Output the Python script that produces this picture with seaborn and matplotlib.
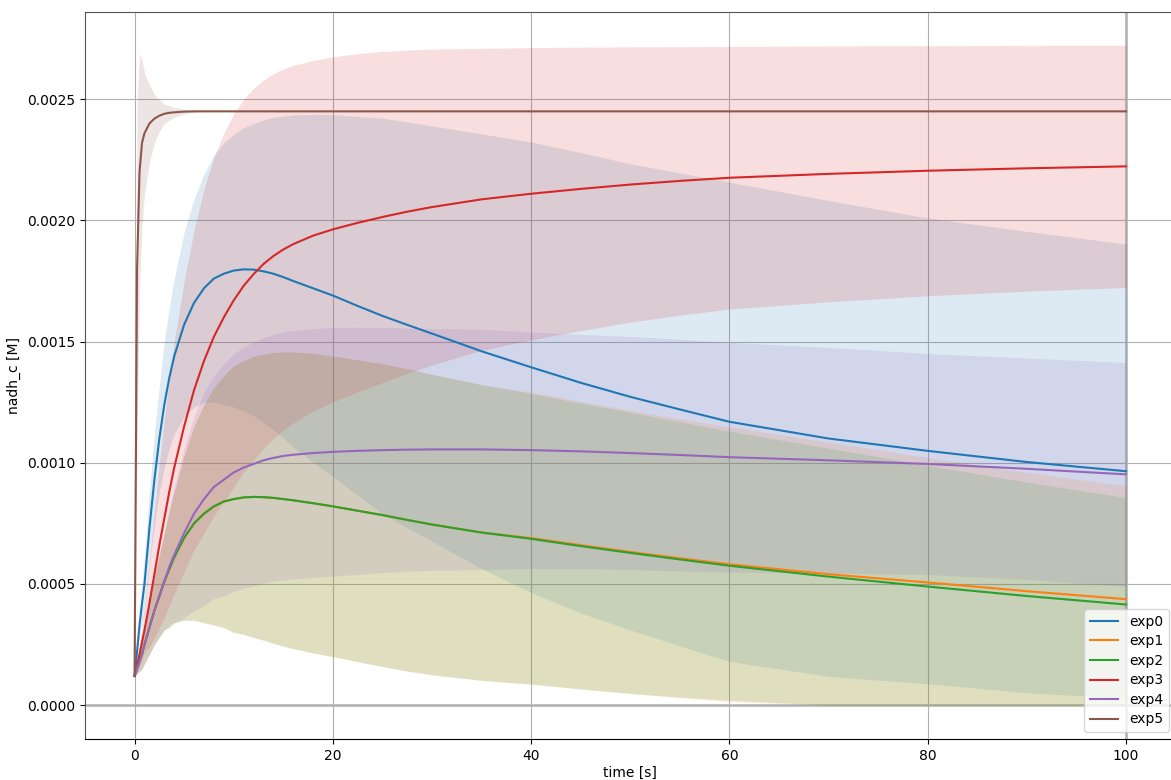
import numpy as np
import pandas as pd
import matplotlib
matplotlib.use("Agg")
import matplotlib.pyplot as plt
import seaborn as sns
from matplotlib.ticker import FormatStrFormatter

time = [0, 0.25, 0.5, 0.75, 1, 1.5, 2, 2.5, 3, 3.5, 4, 5, 6, 7, 8, 9, 10, 11, 12, 13,
        14, 15, 16, 18, 20, 22.5, 25, 27.5, 30, 35, 40, 45, 50, 55, 60, 70, 80, 90, 100]

experiments = ["exp0", "exp1", "exp2", "exp3", "exp4", "exp5"]

mean_exp0 = [0.00012, 0.00022, 0.00033, 0.00042, 0.00050, 0.00073, 0.00093, 0.00110, 0.00124,
             0.00135, 0.00144, 0.00157, 0.00166, 0.00172, 0.00176, 0.00178, 0.001793, 0.001798,
             0.001797, 0.00179, 0.00178, 0.001766, 0.00175, 0.00172, 0.00169, 0.001647, 0.001606,
             0.001569, 0.001533, 0.00146, 0.001394, 0.00133, 0.001272, 0.00122, 0.001169, 0.00110,
             0.001049, 0.001003, 0.000965]
std_exp0 = [0.0, 0.00002, 0.00004, 0.00008, 0.00012, 0.00015, 0.00019, 0.00022, 0.00026,
            0.00029, 0.00032, 0.00038, 0.00043, 0.00047, 0.00051, 0.00054, 0.000562, 0.000584,
            0.000603, 0.000625, 0.000645, 0.000664, 0.000685, 0.000718, 0.000747, 0.000782, 0.000816,
            0.000838, 0.000857, 0.000897, 0.00093, 0.00095, 0.000962, 0.000976, 0.000989, 0.000982,
            0.000961, 0.000952, 0.000938]

mean_exp1 = [0.00012, 0.00015, 0.00018, 0.00021, 0.00025, 0.00032, 0.00039, 0.00045, 0.00051,
             0.00056, 0.00061, 0.00069, 0.00075, 0.00079, 0.00082, 0.00084, 0.00085, 0.000857,
             0.000859, 0.000858, 0.000855, 0.00085, 0.000845, 0.000833, 0.00082, 0.000802, 0.000784,
             0.000764, 0.000745, 0.000712, 0.000689, 0.00066, 0.000632, 0.000606, 0.000581, 0.00054,
             0.000506, 0.00047, 0.000437]
std_exp1 = [0.0, 0.00002, 0.00004, 0.00006, 0.00008, 0.00011, 0.00014, 0.00017, 0.00020,
            0.00024, 0.00027, 0.00034, 0.00040, 0.00045, 0.00049, 0.00052, 0.00055, 0.000565,
            0.00058, 0.00059, 0.00060, 0.000607, 0.000612, 0.000618, 0.00062, 0.000623, 0.000625,
            0.000624, 0.00062, 0.00061, 0.000602, 0.000593, 0.000584, 0.000576, 0.000567, 0.000545,
            0.000515, 0.00049, 0.000468]

mean_exp2 = [0.00012, 0.00015, 0.00018, 0.00021, 0.00025, 0.00032, 0.00039, 0.00045, 0.00051,
             0.00056, 0.00061, 0.00069, 0.00075, 0.00079, 0.00082, 0.00084, 0.00085, 0.000857,
             0.000859, 0.000858, 0.000855, 0.00085, 0.000845, 0.000833, 0.00082, 0.000802, 0.000784,
             0.000764, 0.000745, 0.000712, 0.000686, 0.000656, 0.000628, 0.000601, 0.000575, 0.00053,
             0.000489, 0.00045, 0.000415]
std_exp2 = [0.0, 0.00002, 0.00004, 0.00006, 0.00008, 0.00011, 0.00014, 0.00017, 0.00020,
            0.00024, 0.00027, 0.00034, 0.00040, 0.00045, 0.00049, 0.00052, 0.00055, 0.000565,
            0.00058, 0.00059, 0.00060, 0.000607, 0.000612, 0.000618, 0.00062, 0.000623, 0.000625,
            0.000624, 0.00062, 0.00061, 0.00060, 0.00059, 0.00058, 0.000568, 0.000555, 0.00053,
            0.00050, 0.00047, 0.000441]

mean_exp3 = [0.00012, 0.00016, 0.00021, 0.00026, 0.00031, 0.00042, 0.00054, 0.00066, 0.00077,
             0.00088, 0.00098, 0.00115, 0.00130, 0.00142, 0.00152, 0.00160, 0.00167, 0.00173,
             0.001778, 0.00182, 0.001853, 0.00188, 0.001902, 0.001937, 0.001963, 0.00199, 0.002014,
             0.002036, 0.002055, 0.002087, 0.00211, 0.00213, 0.002148, 0.002163, 0.002176, 0.002192,
             0.002205, 0.002215, 0.002223]
std_exp3 = [0.0, 0.00003, 0.00005, 0.00007, 0.00009, 0.00018, 0.00026, 0.00034, 0.00041,
            0.00047, 0.00052, 0.00060, 0.00066, 0.00071, 0.00074, 0.00076, 0.00077, 0.00077,
            0.000767, 0.00076, 0.000752, 0.000745, 0.000738, 0.000723, 0.000712, 0.000698, 0.000683,
            0.000667, 0.000652, 0.000623, 0.000603, 0.000585, 0.000568, 0.000554, 0.000542, 0.000528,
            0.000516, 0.000507, 0.00050]

mean_exp4 = [0.00012, 0.00015, 0.00018, 0.00021, 0.00025, 0.00032, 0.00039, 0.00045, 0.00051,
             0.00057, 0.00062, 0.00071, 0.00079, 0.00085, 0.00090, 0.00093, 0.00096, 0.00098,
             0.000995, 0.00101, 0.00102, 0.001028, 0.001033, 0.00104, 0.001045, 0.001049, 0.001052,
             0.001054, 0.001055, 0.001055, 0.001052, 0.001047, 0.00104, 0.001032, 0.001023, 0.00101,
             0.000995, 0.000975, 0.000952]
std_exp4 = [0.0, 0.00002, 0.00004, 0.00006, 0.00008, 0.00011, 0.00014, 0.00017, 0.00020,
            0.00024, 0.00028, 0.00035, 0.00040, 0.00044, 0.00046, 0.00048, 0.00049, 0.000498,
            0.000503, 0.000507, 0.00051, 0.000512, 0.000513, 0.000514, 0.000513, 0.00051, 0.000506,
            0.000502, 0.000499, 0.000496, 0.000488, 0.000483, 0.000481, 0.000478, 0.000474, 0.000466,
            0.000456, 0.000457, 0.000462]

mean_exp5 = [0.00012, 0.00180, 0.00220, 0.00232, 0.00236, 0.00240, 0.00242, 0.002432, 0.00244,
             0.002444, 0.002446, 0.002449, 0.00245, 0.00245, 0.00245, 0.00245, 0.00245, 0.00245,
             0.00245, 0.00245, 0.00245, 0.00245, 0.00245, 0.00245, 0.00245, 0.00245, 0.00245,
             0.00245, 0.00245, 0.00245, 0.00245, 0.00245, 0.00245, 0.00245, 0.00245, 0.00245,
             0.00245, 0.00245, 0.00245]
std_exp5 = [0.0, 0.00070, 0.00049, 0.00034, 0.00025, 0.00016, 0.00010, 0.000065, 0.00004,
            0.00003, 0.00002, 0.00001, 0.000004, 0.0, 0.0, 0.0, 0.0, 0.0,
            0.0, 0.0, 0.0, 0.0, 0.0, 0.0, 0.0, 0.0, 0.0,
            0.0, 0.0, 0.0, 0.0, 0.0, 0.0, 0.0, 0.0, 0.0,
            0.0, 0.0, 0.0]

means = [mean_exp0, mean_exp1, mean_exp2, mean_exp3, mean_exp4, mean_exp5]
stds = [std_exp0, std_exp1, std_exp2, std_exp3, std_exp4, std_exp5]

palette = sns.color_palette("tab10", 6)

fig = plt.figure(figsize=(11.71, 7.8), dpi=100)
ax = fig.add_axes([85 / 1171, 41 / 780, 1090.6 / 1171, 727 / 780])

t_arr = np.array(time)
for name, m, s, c in zip(experiments, means, stds, palette):
    m = np.array(m)
    s = np.array(s)
    lo = np.clip(m - s, 0, None)
    hi = m + s
    ax.fill_between(t_arr, lo, hi, color=c, alpha=0.15, linewidth=0)

rows = []
for name, m in zip(experiments, means):
    for tt, v in zip(time, m):
        rows.append({"time": tt, "nadh_c": v, "exp": name})
df = pd.DataFrame(rows)

sns.lineplot(data=df, x="time", y="nadh_c", hue="exp", palette=palette,
             ax=ax, errorbar=None, linewidth=1.5, sort=False)

ax.set_xlim(-5, 105)
ax.set_ylim(-0.00014, 0.00286)
ax.set_xticks([0, 20, 40, 60, 80, 100])
ax.set_yticks([0.0, 0.0005, 0.0010, 0.0015, 0.0020, 0.0025])
ax.yaxis.set_major_formatter(FormatStrFormatter("%.4f"))
ax.grid(True, color="#b0b0b0", linewidth=0.8)
ax.set_axisbelow(True)
ax.axhline(0, color="#b0b0b0", linewidth=1.8, zorder=0.5)
ax.axvline(100, color="#b0b0b0", linewidth=1.8, zorder=0.5)

ax.set_xlabel("time [s]", fontsize=10, labelpad=2)
ax.set_ylabel("nadh_c [M]", fontsize=10)
ax.tick_params(labelsize=10)
for side in ["left", "top"]:
    ax.spines[side].set_color("#555555")
ax.spines["bottom"].set_color("black")

handles, labels = ax.get_legend_handles_labels()
ax.legend(handles, labels, loc="lower right", fontsize=10, labelspacing=0.4)

fig.savefig("out.png", dpi=100)
